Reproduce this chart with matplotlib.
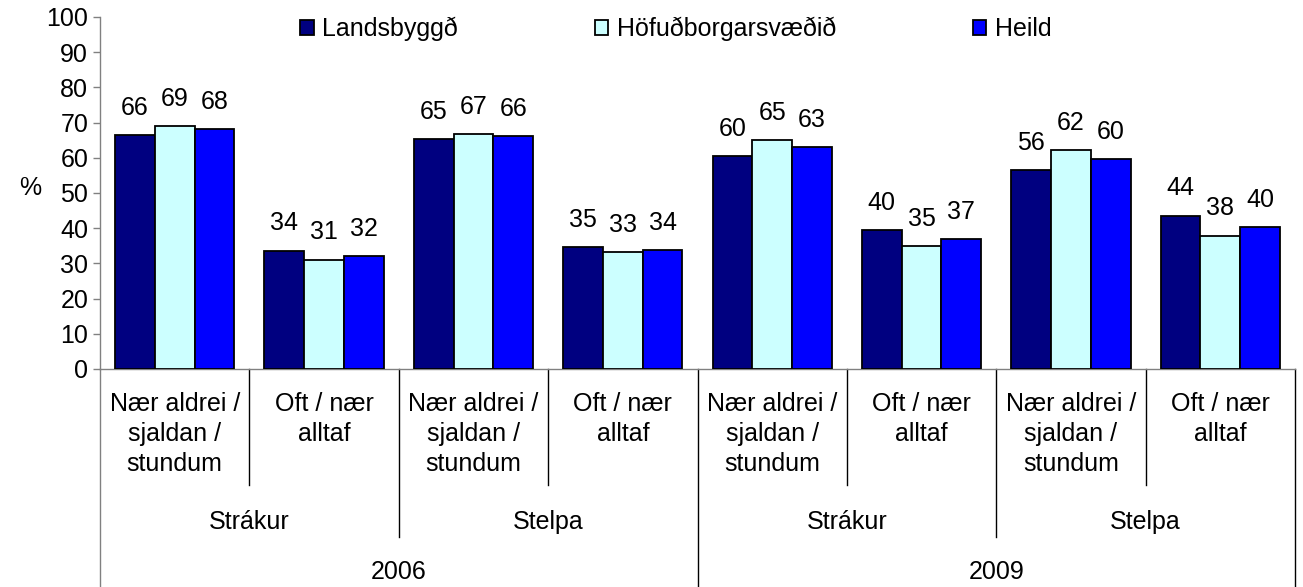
import matplotlib
matplotlib.use("Agg")
import matplotlib.pyplot as plt
import numpy as np

plt.rcParams['font.family'] = ['Liberation Sans', 'DejaVu Sans']

series_names = ['Landsbyggð', 'Höfuðborgarsvæðið', 'Heild']
series_colors = ['#000080', '#CCFFFF', '#0000FF']

categories = ['Nær aldrei /\nsjaldan /\nstundum', 'Oft / nær\nalltaf'] * 4
genders = ['Strákur', 'Stelpa', 'Strákur', 'Stelpa']
years = ['2006', '2009']

landsbyggd = [66.4, 33.6, 65.4, 34.6, 60.5, 39.5, 56.5, 43.6]
hofudborg = [69.0, 31.1, 66.7, 33.3, 65.0, 35.0, 62.1, 37.9]
heild = [68.2, 32.0, 66.2, 33.7, 63.1, 36.9, 59.6, 40.4]
values = [landsbyggd, hofudborg, heild]

W, H = 1303, 587
fig = plt.figure(figsize=(W / 100, H / 100), dpi=100)

ax_l, ax_r, ax_t, ax_b = 100, 1295, 17, 369
ax = fig.add_axes([ax_l / W, 1 - ax_b / H, (ax_r - ax_l) / W, (ax_b - ax_t) / H])
ax_h = ax_b - ax_t

fs = 18
grid_col = '#808080'

x = np.arange(len(categories))
bw = 0.266
for k, (vals, col) in enumerate(zip(values, series_colors)):
    pos = x + (k - 1) * bw
    ax.bar(pos, vals, bw, color=col, edgecolor='black', linewidth=1.3,
           label=series_names[k], zorder=3)
    for px, v in zip(pos, vals):
        ax.annotate(f'{v:.0f}', (px, v), xytext=(0, 11), textcoords='offset points',
                    ha='center', va='bottom', fontsize=fs)

ax.set_xlim(-0.5, len(categories) - 0.5)
ax.set_ylim(0, 100)
ax.set_yticks(range(0, 101, 10))
ax.tick_params(axis='y', direction='out', length=5, width=1, color=grid_col,
               labelsize=fs, pad=3.5)
ax.tick_params(axis='x', bottom=False, labelbottom=False)
for s in ['top', 'right']:
    ax.spines[s].set_visible(False)
for s in ['left', 'bottom']:
    ax.spines[s].set_color(grid_col)
    ax.spines[s].set_linewidth(1)

ax.text((30 - ax_l) / (ax_r - ax_l), (ax_b - 188) / ax_h, '%', transform=ax.transAxes,
        ha='center', va='center', fontsize=fs)

def below(px):
    return -px / ax_h

trans = ax.get_xaxis_transform()
# separators of the multi-level axis
for b in [0.5, 2.5, 4.5, 6.5]:
    ax.plot([b, b], [0, below(485 - ax_b)], color='black', lw=1, transform=trans, clip_on=False)
for b in [1.5, 5.5]:
    ax.plot([b, b], [0, below(537 - ax_b)], color='black', lw=1, transform=trans, clip_on=False)
for b in [-0.5, 3.5, 7.5]:
    ax.plot([b, b], [0, below(H - ax_b)], color=grid_col if b == -0.5 else 'black', lw=1,
            transform=trans, clip_on=False)

for i, c in enumerate(categories):
    ax.text(i, below(392 - ax_b), c, transform=trans, ha='center', va='top',
            fontsize=fs, linespacing=1.32)
for i, g in enumerate(genders):
    ax.text(2 * i + 0.5, below(522 - ax_b), g, transform=trans, ha='center', va='center',
            fontsize=fs)
for i, yv in enumerate(years):
    ax.text(4 * i + 1.5, below(572 - ax_b), yv, transform=trans, ha='center', va='center',
            fontsize=fs)

ax.legend(loc='upper left', bbox_to_anchor=((300 - ax_l) / (ax_r - ax_l), (ax_b - 17) / ax_h),
          ncol=3, frameon=False, fontsize=fs, handlelength=0.55, handleheight=0.55,
          handletextpad=0.35, columnspacing=5.45, borderpad=0, borderaxespad=0)

fig.savefig('out.png', dpi=100)
